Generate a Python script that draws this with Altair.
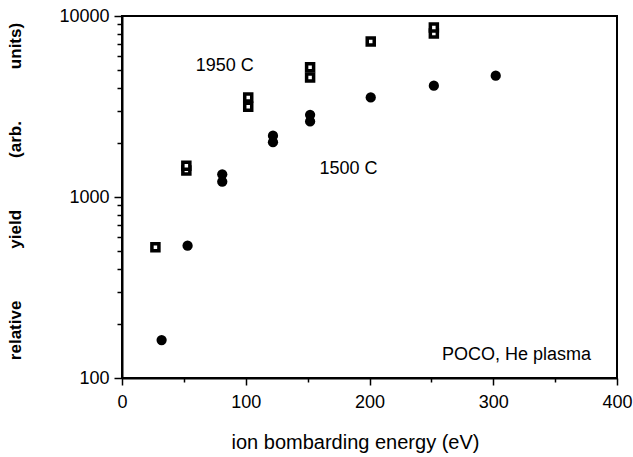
import altair as alt
import pandas as pd

# 1950 C series (open squares)
sq_energy = [27, 52, 52, 102, 102, 152, 152, 201, 252, 252]
sq_yield = [527, 1400, 1490, 3150, 3550, 4580, 5210, 7230, 8010, 8650]

# 1500 C series (filled circles)
ci_energy = [32, 53, 81, 81, 122, 122, 152, 152, 201, 252, 302]
ci_yield = [162, 538, 1215, 1334, 2009, 2183, 2617, 2845, 3550, 4120, 4680]

# in-plot labels
lab_text = ["1950 C", "1500 C"]
lab_energy = [83, 183]
lab_yield = [5300, 1420]

note_text = ["POCO, He plasma"]
note_energy = [379]
note_yield = [134]

x_ticks = [0, 50, 100, 150, 200, 250, 300, 350, 400]
y_ticks = [100, 200, 300, 400, 500, 600, 700, 800, 900,
           1000, 2000, 3000, 4000, 5000, 6000, 7000, 8000, 9000, 10000]

FONT = "Liberation Sans"
NB = "\u00a0"
gap = NB * 11
y_title = "relative" + gap + "yield" + gap + "(arb." + gap + "units)"

sq_df = pd.DataFrame({"energy": sq_energy, "yield": sq_yield})
ci_df = pd.DataFrame({"energy": ci_energy, "yield": ci_yield})
lab_df = pd.DataFrame({"energy": lab_energy, "yield": lab_yield, "text": lab_text})
note_df = pd.DataFrame({"energy": note_energy, "yield": note_yield, "text": note_text})

x_enc = alt.X(
    "energy:Q",
    scale=alt.Scale(domain=[0, 400], nice=False, zero=False),
    axis=alt.Axis(
        values=x_ticks,
        labelExpr="datum.value % 100 == 0 ? datum.label : ''",
        tickSize={"condition": {"test": "datum.value % 100 == 0", "value": 7}, "value": 4},
        labelFlush=False,
        labelOverlap=False,
        labelPadding=8,
        labelFontSize=18,
        title="ion bombarding energy (eV)",
        titleFontSize=20,
        titleFontWeight="normal",
        titleX=233,
        titleY=64,
        titleBaseline="middle",
        grid=False,
    ),
)
y_enc = alt.Y(
    "yield:Q",
    scale=alt.Scale(type="log", domain=[100, 10000], nice=False),
    axis=alt.Axis(
        values=y_ticks,
        format="d",
        labelExpr="datum.value == 100 || datum.value == 1000 || datum.value == 10000 ? datum.label : ''",
        tickSize={"condition": {"test": "datum.value == 100 || datum.value == 1000 || datum.value == 10000", "value": 8}, "value": 5},
        labelOverlap=False,
        labelPadding=5,
        labelFontSize=18,
        title=y_title,
        titleFontSize=17,
        titleFontWeight="bold",
        titleX=-107,
        titleY=175,
        titleBaseline="middle",
        grid=False,
    ),
)

squares = alt.Chart(sq_df).mark_square(
    fill="white", stroke="black", strokeWidth=3.5, size=49, opacity=1
).encode(x=x_enc, y=y_enc)

circles = alt.Chart(ci_df).mark_circle(
    color="black", size=105, opacity=1
).encode(x=x_enc, y=y_enc)

labels = alt.Chart(lab_df).mark_text(
    font=FONT, fontSize=18, align="center", baseline="middle", color="black"
).encode(x=x_enc, y=y_enc, text="text:N")

note = alt.Chart(note_df).mark_text(
    font=FONT, fontSize=18, align="right", baseline="middle", color="black"
).encode(x=x_enc, y=y_enc, text="text:N")

chart = alt.layer(squares, circles, labels, note).properties(
    width=495,
    height=362,
    autosize=alt.AutoSizeParams(type="none"),
    padding={"left": 122, "top": 16, "right": 16, "bottom": 79},
    background="white",
).configure_view(
    stroke="black", strokeWidth=2
).configure_axis(
    domainColor="black",
    domainWidth=2,
    tickColor="black",
    tickWidth=1.5,
    labelColor="black",
    labelFont=FONT,
    titleFont=FONT,
    titleColor="black",
)

chart.save("out.html", embed_options={"renderer": "svg", "actions": False})
